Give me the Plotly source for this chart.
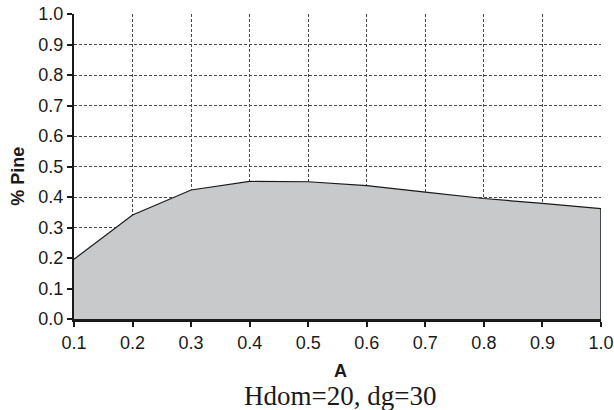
import plotly.graph_objects as go

a_vals = [0.1, 0.2, 0.3, 0.4, 0.5, 0.6, 0.7, 0.8, 0.9, 1.0]
pine = [0.196, 0.341, 0.423, 0.451, 0.450, 0.437, 0.416, 0.395, 0.379, 0.362]
x_ticks = [0.1, 0.2, 0.3, 0.4, 0.5, 0.6, 0.7, 0.8, 0.9, 1.0]
y_ticks = [0.0, 0.1, 0.2, 0.3, 0.4, 0.5, 0.6, 0.7, 0.8, 0.9, 1.0]

fig = go.Figure()
fig.add_trace(go.Scatter(
    x=a_vals, y=pine, mode="lines", fill="tozeroy",
    fillcolor="#c8c9cb", line=dict(color="#1a1a1a", width=1.2),
    hoverinfo="skip", showlegend=False))
fig.add_trace(go.Scatter(
    x=[a_vals[-1], a_vals[-1]], y=[pine[-1], 0], mode="lines",
    line=dict(color="#1a1a1a", width=1.5), hoverinfo="skip", showlegend=False))

fig.update_layout(
    width=614, height=410,
    margin=dict(l=74, r=13, t=14, b=91),
    paper_bgcolor="white", plot_bgcolor="white",
    font=dict(family="Liberation Sans, Arial, sans-serif", color="#1a1a1a", size=18),
)
fig.update_xaxes(
    range=[0.1, 1.0], tickvals=x_ticks, ticktext=[f"{v:.1f}" for v in x_ticks],
    showgrid=True, gridcolor="#4a4a4a", griddash="3px,2px", gridwidth=1,
    showline=True, linecolor="#1a1a1a", linewidth=3,
    ticks="outside", ticklen=5, tickcolor="#1a1a1a", tickwidth=1.5,
    zeroline=False, automargin=False,
)
fig.update_yaxes(
    range=[0, 1.0], tickvals=y_ticks, ticktext=[f"{v:.1f}" for v in y_ticks],
    showgrid=True, gridcolor="#4a4a4a", griddash="3px,2px", gridwidth=1,
    showline=True, linecolor="#1a1a1a", linewidth=2,
    ticks="outside", ticklen=5, tickcolor="#1a1a1a", tickwidth=1.5,
    zeroline=False, automargin=False,
)
# axis titles
fig.add_annotation(
    text="<b>A</b>", xref="paper", yref="paper", x=0.505, y=-52/305,
    yanchor="middle", xanchor="center", showarrow=False,
    font=dict(size=18))
fig.add_annotation(
    text="<b>% Pine</b>", xref="paper", yref="paper", x=-56/527, y=0.466,
    yanchor="middle", xanchor="center", showarrow=False, textangle=-90,
    font=dict(size=18))
fig.add_annotation(
    text="Hdom=20, dg=30", xref="paper", yref="paper", x=0.505, y=-77/305,
    yanchor="middle", xanchor="center", showarrow=False,
    font=dict(family="Liberation Serif, Times New Roman, serif", size=27, color="#1a1a1a"))

fig.write_html("out.html")
